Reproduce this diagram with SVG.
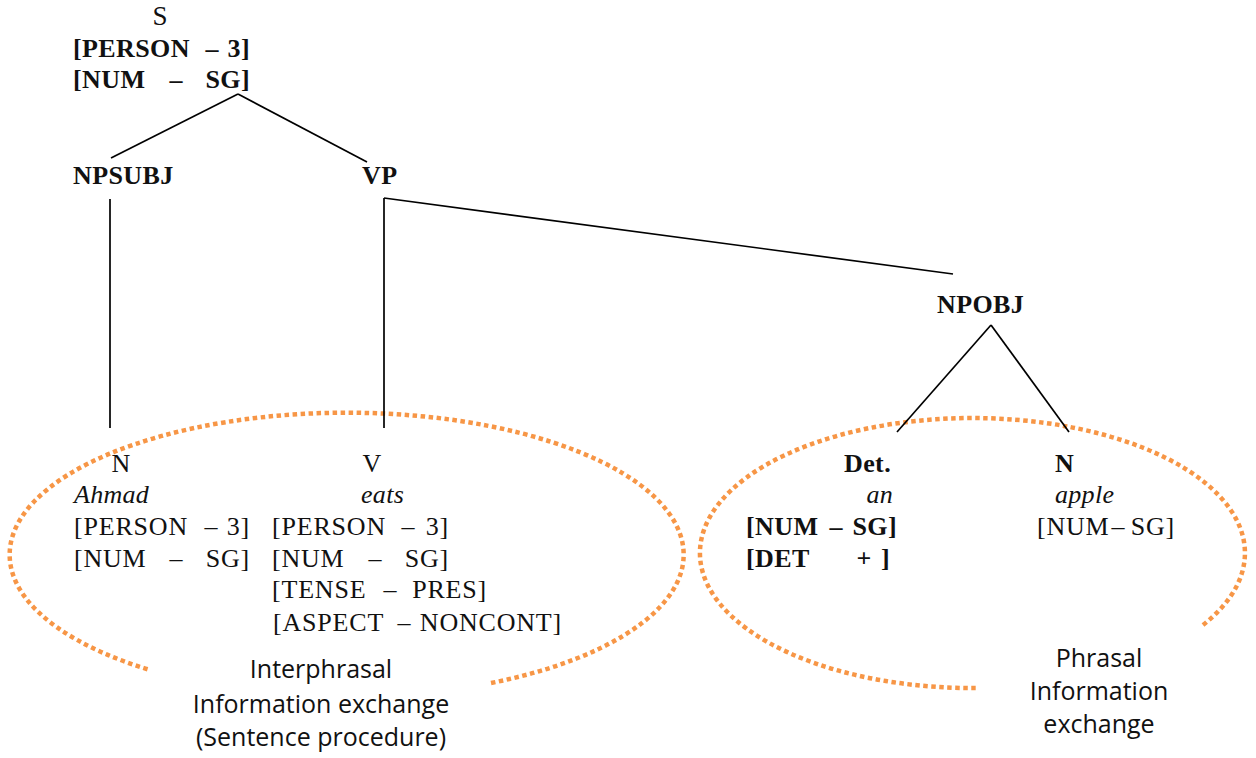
<svg xmlns="http://www.w3.org/2000/svg" width="1256" height="758" viewBox="0 0 1256 758">
<style>
.cm{font-family:"Liberation Serif","Times New Roman",serif;font-size:26px;letter-spacing:0.8px;fill:#111}
.b{font-weight:bold;letter-spacing:0.4px}
.it{font-style:italic;letter-spacing:0.3px}
.m{text-anchor:middle;letter-spacing:0}
.e{text-anchor:end}
.sans{font-family:"Open Sans","Liberation Sans",sans-serif;font-size:25px;fill:#111;text-anchor:middle}
.edge{stroke:#000;stroke-width:1.7;fill:none}
.dots{stroke:#F79646;stroke-width:4.5;stroke-dasharray:4.5 3.5;fill:none}
</style>
<rect width="1256" height="758" fill="#fff"/>
<g id="groups">
<path class="dots" d="M491,683 A337 142 0 1 0 150 670"/>
<path class="dots" d="M1203,625 A272.5 135 0 1 0 979 688"/>
</g>
<g id="connectors">
<line class="edge" x1="238" y1="94" x2="111" y2="158"/>
<line class="edge" x1="238" y1="94" x2="367" y2="162"/>
<line class="edge" x1="110" y1="199" x2="110" y2="428"/>
<line class="edge" x1="384" y1="198" x2="384" y2="428"/>
<line class="edge" x1="384" y1="198" x2="953" y2="274"/>
<line class="edge" x1="991" y1="325" x2="897" y2="432"/>
<line class="edge" x1="991" y1="325" x2="1069" y2="432"/>
</g>
<g id="node-S">
<text class="cm m" x="160" y="25" style="font-size:27px">S</text>
<text class="cm b" x="73" y="57">[PERSON</text><text class="cm b m" x="212" y="57">–</text><text class="cm b e" x="250" y="57">3]</text>
<text class="cm b" x="73" y="88">[NUM</text><text class="cm b m" x="176" y="88">–</text><text class="cm b e" x="250" y="88">SG]</text>
</g>
<g id="node-NPSUBJ"><text class="cm b" x="73" y="184">NPSUBJ</text></g>
<g id="node-VP"><text class="cm b" x="362" y="184">VP</text></g>
<g id="node-NPOBJ"><text class="cm b" x="937" y="313">NPOBJ</text></g>
<g id="node-N-Ahmad">
<text class="cm m" x="121" y="472">N</text>
<text class="cm it" x="74" y="503">Ahmad</text>
<text class="cm" x="74" y="535">[PERSON</text><text class="cm m" x="211" y="535">–</text><text class="cm e" x="250" y="535">3]</text>
<text class="cm" x="74" y="567">[NUM</text><text class="cm m" x="176" y="567">–</text><text class="cm e" x="250" y="567">SG]</text>
</g>
<g id="node-V-eats">
<text class="cm m" x="372" y="472">V</text>
<text class="cm it" x="361" y="503">eats</text>
<text class="cm" x="272" y="535">[PERSON</text><text class="cm m" x="408" y="535">–</text><text class="cm e" x="449" y="535">3]</text>
<text class="cm" x="272" y="567">[NUM</text><text class="cm m" x="375" y="567">–</text><text class="cm e" x="449" y="567">SG]</text>
<text class="cm" x="272" y="598">[TENSE</text><text class="cm m" x="390" y="598">–</text><text class="cm e" x="487" y="598">PRES]</text>
<text class="cm" x="273" y="631">[ASPECT</text><text class="cm m" x="404" y="631">–</text><text class="cm e" x="562" y="631">NONCONT]</text>
</g>
<g id="node-Det-an">
<text class="cm b" x="844" y="472">Det.</text>
<text class="cm it e" x="893" y="503">an</text>
<text class="cm b" x="746" y="535">[NUM</text><text class="cm b m" x="836" y="535">–</text><text class="cm b e" x="897" y="535">SG]</text>
<text class="cm b" x="746" y="567">[DET</text><text class="cm b m" x="864" y="567">+</text><text class="cm b" x="881" y="567">]</text>
</g>
<g id="node-N-apple">
<text class="cm b" x="1055" y="472">N</text>
<text class="cm it" x="1055" y="503">apple</text>
<text class="cm" x="1037" y="535">[NUM</text><text class="cm m" x="1118" y="535">–</text><text class="cm e" x="1175" y="535">SG]</text>
</g>
<g id="label-interphrasal">
<text class="sans" x="321" y="678">Interphrasal</text>
<text class="sans" x="321" y="713">Information exchange</text>
<text class="sans" x="321" y="746">(Sentence procedure)</text>
</g>
<g id="label-phrasal">
<text class="sans" x="1099" y="667">Phrasal</text>
<text class="sans" x="1099" y="700">Information</text>
<text class="sans" x="1099" y="733">exchange</text>
</g>
</svg>
